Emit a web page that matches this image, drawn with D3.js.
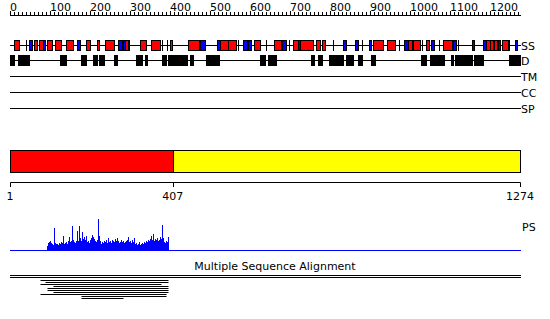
<!DOCTYPE html>
<html>
<head>
<meta charset="utf-8">
<script src="https://cdn.jsdelivr.net/npm/d3@7"></script>
<style>
body { margin: 0; background: #fff; }
text { font-family: "DejaVu Sans", sans-serif; font-size: 11px; fill: #000; }
</style>
</head>
<body>
<svg id="chart" width="550" height="319"></svg>
<script>
//sequence data
var seqLength = 1274;
var rulerLabels = [0, 100, 200, 300, 400, 500, 600, 700, 800, 900, 1000, 1100, 1200];
var trackNames = ["SS", "D", "TM", "CC", "SP"];

//secondary structure: helices, strands, short turns
var helices = [[11,23],[61,68],[73,84],[94,107],[113,128],[141,158],[190,201],[218,223],[238,261],[287,296],
	[325,340],[353,375],[400,405],[445,473],[525,545],[546,565],[610,625],[660,677],[707,720],[725,757],
	[765,775],[780,787],[907,932],[942,962],[994,1004],[1008,1024],[1040,1047],[1082,1105],[1189,1198],
	[1199,1207],[1208,1216],[1229,1244]];
var strands = [[48,57],[83,88],[168,176],[270,280],[283,287],[475,488],[518,525],[583,593],[594,603],[680,690],
	[719,725],[832,840],[862,870],[897,902],[985,994],[1004,1008],[1052,1059],[1107,1114],[1154,1159],
	[1182,1189],[1219,1224],[1262,1267]];
var turns = [40, 298, 380, 393, 570, 640, 697, 807, 880, 972, 1029, 1072, 1119, 1247];

//disorder
var disorder = [[1,11],[21,48],[126,141],[178,191],[208,218],[223,236],[261,268],[316,330],[338,343],[380,390],
	[395,443],[450,458],[490,523],[605,606],[612,613],[625,637],[645,665],[752,760],[770,780],[797,832],
	[840,850],[852,857],[870,880],[902,912],[935,935],[982,982],[1027,1039],[1049,1084],[1102,1107],
	[1112,1154],[1159,1182],[1247,1267],[1268,1274]];

//domains
var domains = [{start: 1, end: 407, color: "#ff0000"}, {start: 407, end: 1274, color: "#ffff00"}];
var domainTicks = [1, 407, 1274];

//PS profile, one bin every 2.5 residues from residue 93
var psStart = 93, psStep = 2.5;
var psValues = [4,7,8,9,7,6,5,22,7,6,6,5,7,6,8,7,14,6,7,8,6,9,13,8,9,24,10,8,7,9,19,9,24,12,9,18,
	11,13,10,14,8,9,7,10,12,15,13,11,9,8,10,31,14,9,6,8,7,9,8,10,7,12,8,9,7,10,9,8,11,9,12,
	9,7,8,10,8,9,7,8,9,10,13,8,9,7,10,8,12,6,7,5,6,8,5,6,7,6,8,7,9,8,10,9,11,14,10,16,
	9,11,10,12,9,10,13,11,25,12,8,7,9,8,13];

//multiple sequence alignment hits
var msaHits = [[76,395],[88,395],[76,378],[108,395],[93,395],[93,395],[108,395],[76,390],[178,390],[178,283]];

//chart
var svg = d3.select("#chart");
var x = d3.scaleLinear().domain([1, seqLength]).range([10, 520]);
function px(v) { return Math.round(x(v)) + 0.5; }

//ruler
var ruler = svg.append("g");
ruler.append("line").attr("x1", 10).attr("x2", 521).attr("y1", 15.5).attr("y2", 15.5).attr("stroke", "#000");
ruler.selectAll(".tick").data(d3.range(0, 1271, 10)).enter().append("line")
	.attr("x1", function(d) { return px(d); }).attr("x2", function(d) { return px(d); })
	.attr("y1", function(d) { return d % 100 == 0 ? 11 : 12; }).attr("y2", 15.5)
	.attr("stroke", "#000");
ruler.selectAll("text").data(rulerLabels).enter().append("text")
	.attr("x", function(d) { return Math.round(x(d)); }).attr("y", 11)
	.text(function(d) { return d; });

//track base lines and labels
var trackY = {SS: 45.5, D: 60.5, TM: 76.5, CC: 92.5, SP: 108.5};
trackNames.forEach(function(t)
	{
		svg.append("line").attr("x1", 10).attr("x2", 521).attr("y1", trackY[t]).attr("y2", trackY[t]).attr("stroke", "#000");
		svg.append("text").attr("x", 521).attr("y", trackY[t] + 4).text(t);
	});

function boxes(data, y, h, fill)
{
	svg.append("g").selectAll("rect").data(data).enter().append("rect")
		.attr("x", function(d) { return px(d[0]); })
		.attr("width", function(d) { return Math.max(0, px(d[1]) - px(d[0])); })
		.attr("y", y).attr("height", h)
		.attr("fill", fill).attr("stroke", "#000").attr("shape-rendering", "crispEdges");
}
boxes(helices, 40.5, 10, "#ff0000");
boxes(strands, 40.5, 10, "#0000ff");
svg.append("g").selectAll("line").data(turns).enter().append("line")
	.attr("x1", function(d) { return px(d); }).attr("x2", function(d) { return px(d); })
	.attr("y1", 40).attr("y2", 51).attr("stroke", "#000");
boxes(disorder, 55.5, 10, "#000");

//domain bar
svg.append("g").selectAll("rect").data(domains).enter().append("rect")
	.attr("x", function(d) { return px(d.start); })
	.attr("width", function(d) { return px(d.end) - px(d.start); })
	.attr("y", 150.5).attr("height", 22)
	.attr("fill", function(d) { return d.color; }).attr("stroke", "#000");
svg.append("line").attr("x1", px(1)).attr("x2", px(seqLength)).attr("y1", 182.5).attr("y2", 182.5).attr("stroke", "#000");
svg.append("g").selectAll("line").data(domainTicks).enter().append("line")
	.attr("x1", function(d) { return px(d); }).attr("x2", function(d) { return px(d); })
	.attr("y1", 182.5).attr("y2", 187).attr("stroke", "#000");
svg.append("g").selectAll("text").data(domainTicks).enter().append("text")
	.attr("x", function(d) { return x(d); }).attr("y", 200).attr("text-anchor", "middle")
	.text(function(d) { return d; });

//PS profile
var y = d3.scaleLinear().domain([0, 31]).range([250, 219]);
svg.append("g").selectAll("rect").data(psValues).enter().append("rect")
	.attr("x", function(d, i) { return Math.round(x(psStart + i * psStep)); })
	.attr("width", 1)
	.attr("y", function(d) { return y(d); })
	.attr("height", function(d) { return 250 - y(d); })
	.attr("fill", "#0000ff");
svg.append("line").attr("x1", 10).attr("x2", 521).attr("y1", 250.5).attr("y2", 250.5).attr("stroke", "#0000ff");
svg.append("text").attr("x", 522).attr("y", 231).text("PS");

//MSA
svg.append("text").attr("x", 275).attr("y", 270).attr("text-anchor", "middle").text("Multiple Sequence Alignment");
[275.5, 277.5].forEach(function(yy)
	{
		svg.append("line").attr("x1", 10).attr("x2", 521).attr("y1", yy).attr("y2", yy).attr("stroke", "#000");
	});
svg.append("g").selectAll("line").data(msaHits).enter().append("line")
	.attr("x1", function(d) { return px(d[0]); }).attr("x2", function(d) { return px(d[1]); })
	.attr("y1", function(d, i) { return 280.5 + i * 2; }).attr("y2", function(d, i) { return 280.5 + i * 2; })
	.attr("stroke", "#000");
</script>
</body>
</html>
